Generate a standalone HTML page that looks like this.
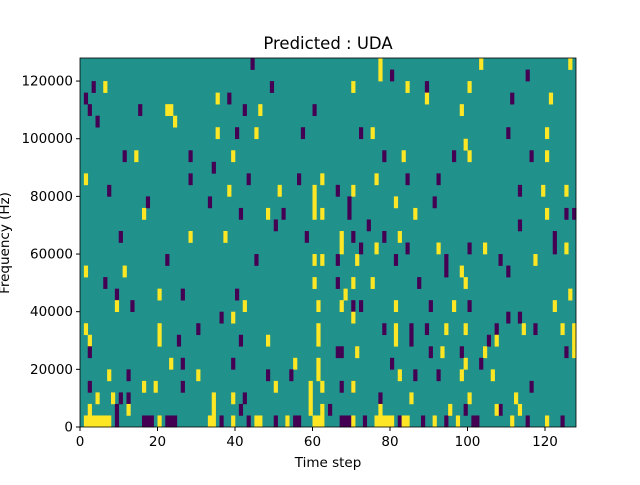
<!DOCTYPE html>
<html><head><meta charset="utf-8"><style>
body{margin:0;background:#fff;}
svg{font-family:"DejaVu Sans","Liberation Sans",sans-serif;}
</style></head><body>
<svg id="s" width="640" height="480" xmlns="http://www.w3.org/2000/svg">
<rect x="0" y="0" width="640" height="480" fill="#fff"/>
<rect x="80" y="58" width="496" height="369" fill="#21918c"/>
<g id="cells"></g>
<rect x="80" y="58" width="496" height="369" fill="none" stroke="#000" stroke-width="0.8"/>
<g id="ticks" font-size="13.5" fill="#000"></g>
<text x="328" y="49" font-size="16.5" text-anchor="middle">Predicted : UDA</text>
<text x="328" y="467" font-size="13.5" text-anchor="middle">Time step</text>
<text transform="translate(9,243) rotate(-90)" font-size="13.5" text-anchor="middle">Frequency (Hz)</text>
</svg>
<script>
var P="#440154",Y="#fde725";
var g=document.getElementById('cells');
function cell(x,y,w,c){
  var col=Math.round((x-80)/3.875-0.5), row=Math.floor((427-y)/11.53);
  if(row<0)row=0;if(row>31)row=31;
  var r=document.createElementNS("http://www.w3.org/2000/svg","rect");
  r.setAttribute("x",80+col*3.875);r.setAttribute("y",427-(row+1)*11.53);
  r.setAttribute("width",3.875*(w||1)+0.3);r.setAttribute("height",11.83);r.setAttribute("fill",c);g.appendChild(r);
}
[[82,7,Y],[116,1,P],[143,3,P],[158,1,Y],[166,3,P],[208,2,Y],[221,1,P],[231,1,Y],[245,1,P],[256,2,Y],[275,1,P],[284,1,Y],[292,2,P],[311,3,Y],[338,3,P],[353,1,Y],[361,1,P],[373,5,Y],[396,1,P],[403,2,Y],[421,1,P],[431,1,Y],[446,1,P],[456,1,Y],[471,2,P],[510,1,Y],[526,1,P],[543,1,Y],[561,1,P]].forEach(function(a){cell(a[0]+2,421,a[1],a[2]);});
var L=[
[252,63,P],[380,68,Y],[391,73,P],[481,63,Y],[527,73,P],[570,63,Y],[380,74,Y],
[93,85,P],[105,85,Y],[272,85,P],[352,85,Y],[427,85,P],[469,85,Y],
[87,96,P],[140,106,P],[167,106,Y],[170,106,Y],[218,96,Y],[229,96,P],[244,106,P],[260,106,Y],[314,106,P],[408,85,Y],[428,96,Y],[462,106,Y],[511,96,P],[551,96,Y],
[91,106,P],[97,118,P],[175,118,Y],[218,129,Y],[237,129,P],[256,129,Y],[303,129,P],[361,129,P],[373,129,Y],[466,141,Y],[508,129,P],[547,129,Y],
[125,152,P],[137,152,Y],[191,152,P],[213,163,P],[233,152,Y],[384,152,P],[405,152,Y],[454,152,P],[469,152,Y],[532,152,P],[547,152,Y],
[86,175,Y],[109,186,P],[147,198,P],[144,209,Y],[190,175,P],[229,186,Y],[248,175,P],[280,186,Y],[300,175,P],[316,186,Y],[323,175,Y],[337,186,P],[354,186,Y],[376,175,Y],[406,175,P],[437,175,P],[520,186,P],[542,186,Y],[566,186,Y],
[209,198,P],[241,209,P],[268,209,Y],[284,209,P],[314,198,Y],[316,209,Y],[322,209,Y],[349,198,P],[349,209,P],[368,221,P],[396,198,Y],[414,209,Y],[436,198,P],[547,209,Y],[567,209,P],[574,209,P],[520,221,P],
[121,232,P],[190,232,Y],[224,232,Y],[274,221,P],[308,232,P],[340,232,Y],[354,232,P],[385,232,P],[400,232,Y],[407,244,P],[439,244,Y],[468,244,P],[485,244,Y],[556,232,P],[556,244,P],[568,244,Y],
[86,267,Y],[124,267,Y],[167,255,P],[258,255,P],[316,255,Y],[322,255,Y],[337,255,P],[340,244,Y],[356,255,Y],[362,244,P],[376,244,Y],[396,255,P],[446,255,P],[446,267,P],[462,267,Y],[500,255,P],[509,267,P],[534,255,Y],
[106,278,P],[115,290,P],[159,290,Y],[183,290,P],[237,290,P],[316,278,Y],[336,278,P],[353,278,Y],[373,278,Y],[418,278,P],[466,278,Y],[569,290,Y],
[118,301,Y],[131,301,P],[232,313,Y],[246,301,Y],[317,301,Y],[343,301,Y],[344,298,Y],[354,301,P],[359,301,P],[395,301,Y],[431,301,P],[453,301,Y],[470,301,P],[508,313,P],[518,313,P],[554,301,Y],
[86,324,Y],[160,324,Y],[197,324,P],[221,313,P],[319,324,Y],[353,313,Y],[384,324,P],[397,324,Y],[410,324,P],[428,324,P],[448,324,Y],[466,324,Y],[498,324,P],[524,324,Y],[536,324,P],[563,324,Y],[573,324,Y],
[89,336,Y],[161,336,Y],[180,336,P],[241,336,P],[268,336,Y],[320,336,Y],[397,336,Y],[410,336,P],[488,336,P],[498,336,Y],[575,336,Y],[575,347,Y],
[91,347,P],[338,347,P],[340,347,P],[357,347,Y],[431,347,P],[443,347,Y],[463,347,P],[484,347,Y],[567,347,P],
[171,359,Y],[184,359,P],[233,359,P],[295,359,Y],[318,359,Y],[318,370,Y],[393,359,P],[464,359,Y],[482,359,P],
[110,370,Y],[129,370,P],[199,370,Y],[268,370,P],
[88,382,P],[120,398,P],[111,398,Y],[127,398,P],[143,387,Y],[156,387,Y],[182,387,P],[277,387,Y],[293,375,P],[312,382,Y],[322,387,Y],[342,387,P],[353,387,P],[355,387,Y],[398,375,Y],[417,375,P],[437,375,P],[460,375,Y],[494,375,Y],[532,387,P],
[96,398,Y],[212,398,Y],[234,398,Y],[246,398,P],[312,398,Y],[324,410,Y],[381,398,P],[412,398,Y],[450,410,Y],[468,398,Y],[502,410,P],[514,398,Y],[520,410,Y],
[88,410,Y],[117,410,P],[130,410,Y],[212,410,Y],[241,410,P],[310,410,Y],[330,410,P],[380,410,Y],[467,410,P],[498,410,Y]
];
L.forEach(function(a){cell(a[0],a[1],1,a[2]);});
var t=document.getElementById('ticks'),h="";
for(var v=0;v<=120;v+=20){var x=80+v*3.875;h+='<line x1="'+x+'" y1="427" x2="'+x+'" y2="431" stroke="#000"/><text x="'+x+'" y="446" text-anchor="middle">'+v+'</text>';}
for(var v=0;v<=120000;v+=20000){var y=427-v/128000*369;h+='<line x1="76" y1="'+y+'" x2="80" y2="'+y+'" stroke="#000"/><text x="73" y="'+(y+4.5)+'" text-anchor="end">'+v+'</text>';}
t.innerHTML=h;
</script>
</body></html>
